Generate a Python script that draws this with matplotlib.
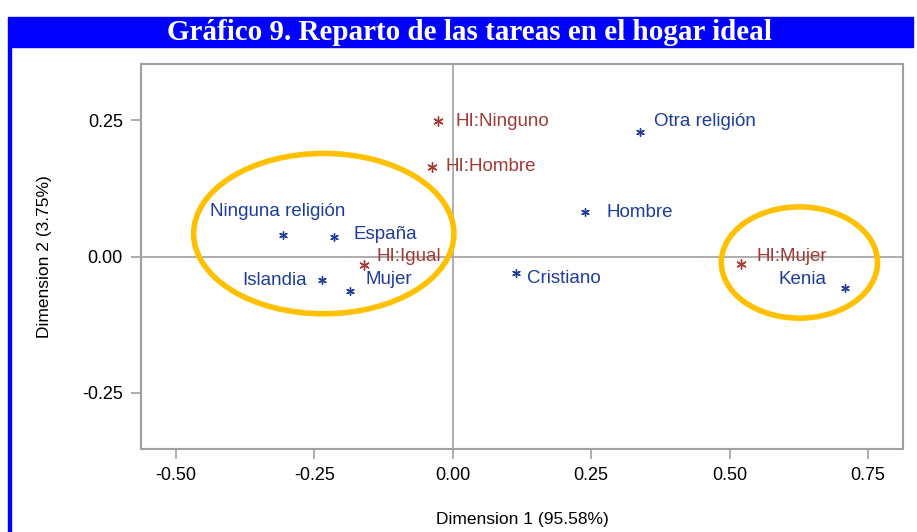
import matplotlib
matplotlib.use('Agg')
import matplotlib.pyplot as plt
from matplotlib.patches import Ellipse, Rectangle

# Datos: coordenadas del análisis de correspondencias
etiquetas_hi = ['HI:Ninguno', 'HI:Hombre', 'HI:Igual', 'HI:Mujer']
x_hi = [-0.027, -0.038, -0.161, 0.520]
y_hi = [0.248, 0.165, -0.015, -0.013]

etiquetas_var = ['Otra religión', 'Hombre', 'Ninguna religión', 'España',
                 'Islandia', 'Mujer', 'Cristiano', 'Kenia']
x_var = [0.338, 0.238, -0.307, -0.215, -0.236, -0.186, 0.114, 0.708]
y_var = [0.228, 0.081, 0.040, 0.035, -0.044, -0.064, -0.031, -0.057]

xticks = [-0.50, -0.25, 0.00, 0.25, 0.50, 0.75]
yticks = [-0.25, 0.00, 0.25]

azul = '#1E3C9C'
rojo = '#A33A35'
gris = '#A0A0A0'

# desplazamientos de las etiquetas (puntos)
off_hi = {'HI:Ninguno': (13, 0), 'HI:Hombre': (10, 0), 'HI:Igual': (9, 6), 'HI:Mujer': (11, 5)}
off_var = {'Otra religión': (10, 8), 'Hombre': (16, 0), 'Ninguna religión': (-4, 16.5),
           'España': (14, 2), 'Islandia': (-11, 0), 'Mujer': (11, 8.5),
           'Cristiano': (8, -4), 'Kenia': (-13, 6)}
ha_var = {'Ninguna religión': 'center', 'Islandia': 'right', 'Kenia': 'right'}

plt.rcParams['font.family'] = ['Liberation Sans', 'DejaVu Sans']

fig = plt.figure(figsize=(9.17, 5.32), dpi=100)

# Banda del título
fig.patches.append(Rectangle((8 / 917, 1 - 47 / 532), 905 / 917, 30 / 532,
                             transform=fig.transFigure, color='#0000FF', zorder=0))
fig.patches.append(Rectangle((8 / 917, 0), 3 / 917, 1 - 47 / 532,
                             transform=fig.transFigure, color='#0000FF', zorder=0))
fig.text(0.512, 1 - 32 / 532, 'Gráfico 9. Reparto de las tareas en el hogar ideal',
         ha='center', va='center', color='white', fontsize=21, fontweight='bold',
         family=['Liberation Serif', 'DejaVu Serif'])

ax = fig.add_axes([0.1538, 0.156, 0.8309, 0.7237])

ax.axhline(0, color=gris, lw=1.2, zorder=1)
ax.axvline(0, color=gris, lw=1.2, zorder=1)

ax.scatter(x_hi, y_hi, marker=(6, 2, 0), s=45, color=rojo, linewidths=1, zorder=3)
ax.scatter(x_var, y_var, marker=(6, 2, 0), s=30, color=azul, linewidths=1, zorder=3)

for lab, x, y in zip(etiquetas_hi, x_hi, y_hi):
    ax.annotate(lab, (x, y), xytext=off_hi[lab], textcoords='offset points',
                color=rojo, fontsize=13.5, ha='left', va='center')
for lab, x, y in zip(etiquetas_var, x_var, y_var):
    ax.annotate(lab, (x, y), xytext=off_var[lab], textcoords='offset points',
                color=azul, fontsize=13.5, ha=ha_var.get(lab, 'left'), va='center')

# Elipses que agrupan
ax.add_patch(Ellipse((-0.233, 0.042), 0.470, 0.294, fill=False,
                     edgecolor='#FFC000', lw=4, zorder=2))
ax.add_patch(Ellipse((0.626, -0.011), 0.282, 0.204, fill=False,
                     edgecolor='#FFC000', lw=4, zorder=2))

ax.set_xlim(-0.563, 0.813)
ax.set_ylim(-0.353, 0.353)
ax.set_xticks(xticks)
ax.set_yticks(yticks)
ax.set_xticklabels([f'{v:.2f}' for v in xticks])
ax.set_yticklabels([f'{v:.2f}' for v in yticks])
ax.tick_params(colors=gris, labelcolor='black', labelsize=13, length=7, width=1.2, pad=6)
for s in ax.spines.values():
    s.set_color(gris)
    s.set_linewidth(1.5)

ax.set_xlabel('Dimension 1 (95.58%)', fontsize=12.5, labelpad=20)
ax.set_ylabel('Dimension 2 (3.75%)', fontsize=12.5, labelpad=22)

fig.savefig('out.png', dpi=100)
